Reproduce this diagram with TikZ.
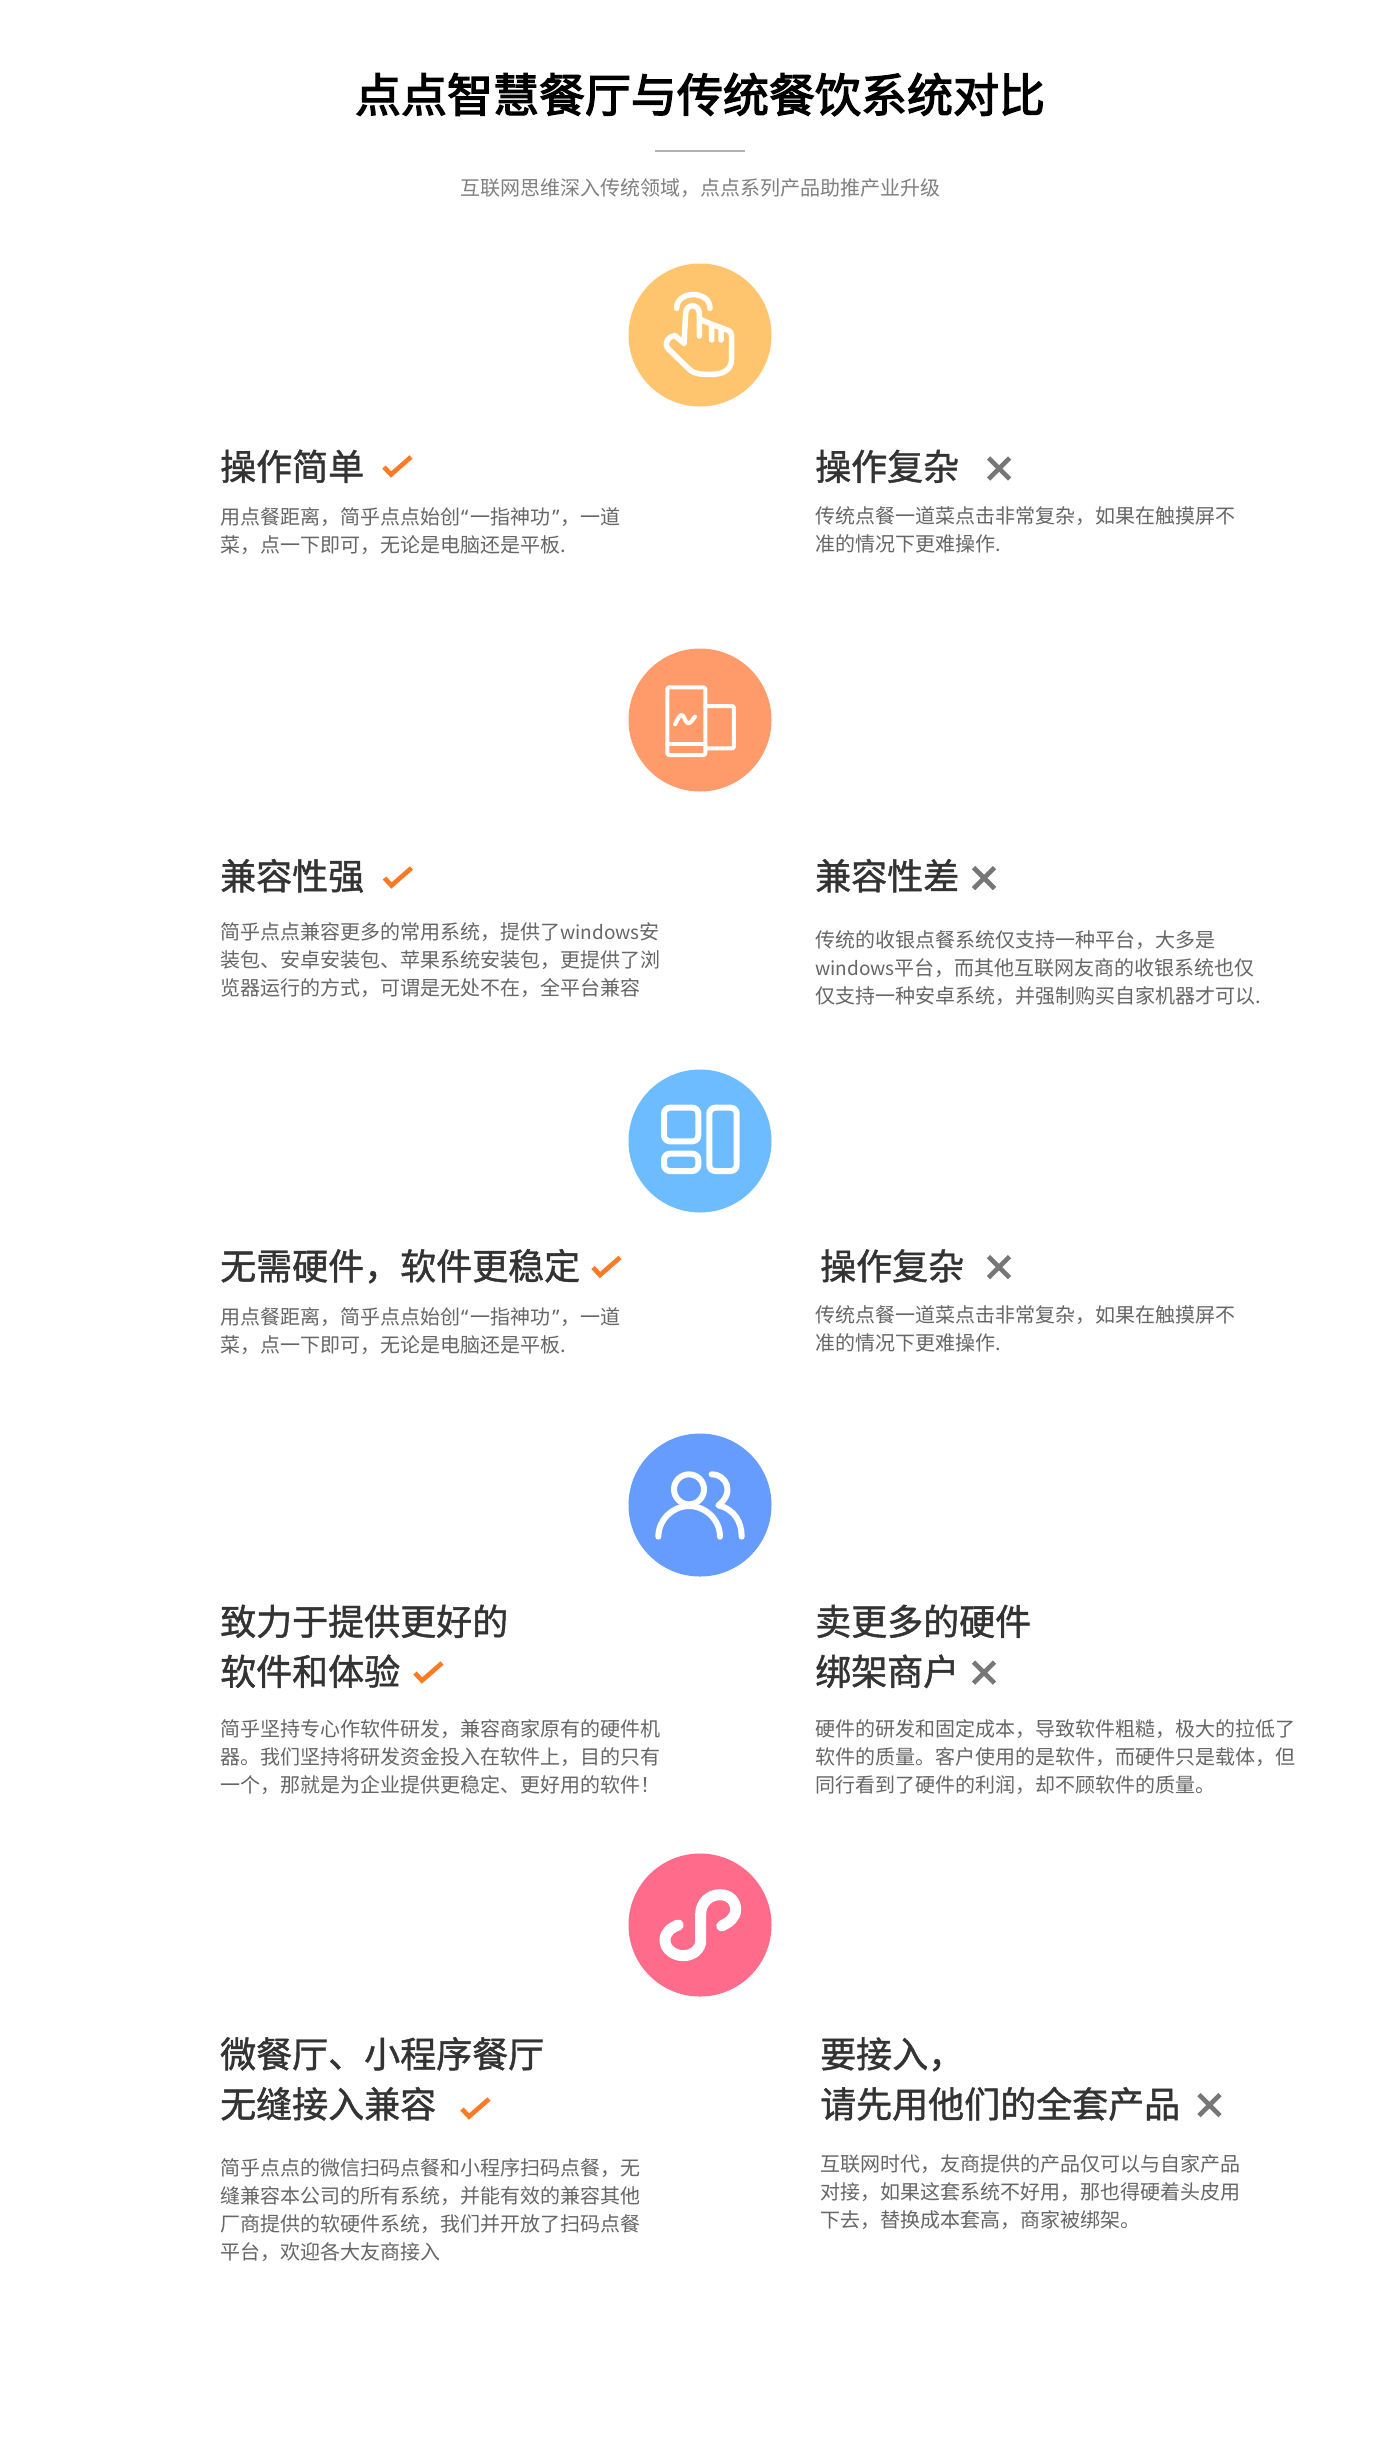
\documentclass[tikz,border=0pt]{standalone}
\usepackage{fontspec}
\usepackage{tikz}
\setmainfont{Noto Sans CJK SC}
\newfontfamily\headfont[FakeBold=1.2]{Noto Sans CJK SC}
\newfontfamily\titlefont[FakeBold=2.8]{Noto Sans CJK SC}
\newfontfamily\quotefont{Noto Sans}
\newcommand{\openq}{\kern1pt{\quotefont “}\kern2pt}
\newcommand{\closeq}{\kern2pt{\quotefont ”}\kern1pt}
\newcommand{\winname}{{\fontsize{19}{28}\selectfont windows}}
\definecolor{yellowbg}{HTML}{FFC56E}
\definecolor{orangebg}{HTML}{FF9B6B}
\definecolor{skybg}{HTML}{6CBCFF}
\definecolor{bluebg}{HTML}{679CFF}
\definecolor{pinkbg}{HTML}{FF6B8B}
\definecolor{okcolor}{HTML}{F97B26}
\definecolor{nocolor}{HTML}{777777}
\tikzset{
    %Define style for the texts
    title/.style={
           anchor=base, inner sep=0pt, font=\fontsize{46}{50}\selectfont\titlefont, text=black},
    subtitle/.style={
           anchor=base, inner sep=0pt, font=\fontsize{20}{28}\selectfont, text=black!50},
    headtext/.style={
           anchor=base west, inner sep=0pt, text width=620pt, align=left,
           font=\fontsize{36}{50}\selectfont\headfont, text=black!80},
    bodytext/.style={
           anchor=base west, inner sep=0pt, text width=540pt, align=left,
           font=\fontsize{20}{28}\selectfont, text=black!60},
    % Define icon styles
    badge/.style={
           circle, minimum size=143pt, inner sep=0pt},
    ico/.style={
           draw=white, line cap=round, line join=round},
    % Define the two marks
    okmark/.pic={
           \draw[okcolor, line width=4.6pt] (-13,1) -- (-6,8.5) -- (14,-9);},
    nomark/.pic={
           \draw[nocolor, line width=4.6pt] (-10.5,-10.5) -- (10.5,10.5) (-10.5,10.5) -- (10.5,-10.5);}
}
\begin{document}
\begin{tikzpicture}[x=1pt,y=-1pt]
	\path[fill=white, use as bounding box] (0,0) rectangle (1400,2447);

	% Header
	\node[title](main) at (700,112) {点点智慧餐厅与传统餐饮系统对比};
	\coordinate (rule-l) at (655,151);
	\coordinate (rule-r) at (745,151);
	\draw[black!30, line width=1.5pt] (rule-l) -- (rule-r);
	\node[subtitle](sub) at (700,195.5) {互联网思维深入传统领域，点点系列产品助推产业升级};

	% Row 1
	\node[badge, fill=yellowbg](touch) at (700,335) {};
	\begin{scope}[shift={(640,275)}, x=0.3333pt, y=-0.3333pt]
		\draw[ico, line width=5.5pt] (110,100) .. controls (110,45) and (210,45) .. (210,100);
		\draw[ico, line width=5.5pt] (132,205) -- (137,115) .. controls (137,85) and (178,85) .. (178,115) -- (178,183)
			(178,132) -- (215,148) -- (215,195)
			(215,148) -- (243,158) -- (243,195)
			(243,158) -- (262,165) .. controls (270,168) and (275,172) .. (275,182) -- (275,250)
			.. controls (275,285) and (250,298) .. (215,298) .. controls (185,298) and (165,298) .. (150,285)
			-- (85,222) .. controls (70,205) and (85,182) .. (105,182) -- (132,205);
	\end{scope}
	\node[headtext](l1-head) at (220,480) {操作简单};
	\pic at (397,466) {okmark};
	\node[bodytext](l1-body) at (220,524.5) {用点餐距离，简乎点点始创\openq 一指神功\closeq ，一道\\菜，点一下即可，无论是电脑还是平板.};
	\node[headtext](r1-head) at (815,480) {操作复杂};
	\pic at (999,468.5) {nomark};
	\node[bodytext](r1-body) at (815,523.5) {传统点餐一道菜点击非常复杂，如果在触摸屏不\\准的情况下更难操作.};

	% Row 2
	\node[badge, fill=orangebg](device) at (700,720) {};
	\begin{scope}[shift={(650,670)}, x=0.3333pt, y=-0.3333pt]
		\draw[ico, line width=4pt, rounded corners=2pt] (52,52) rectangle (166,255);
		\draw[ico, line width=4pt] (52,222) -- (166,222);
		\draw[ico, line width=4pt, rounded corners=2pt] (166,108) -- (252,108) -- (252,235) -- (166,235);
		\draw[ico, line width=4pt] (75,163) .. controls (82,150) and (88,135) .. (95,135) .. controls (104,135) and (105,160) .. (115,160) .. controls (122,160) and (128,148) .. (135,140);
	\end{scope}
	\node[headtext](l2-head) at (220,889.5) {兼容性强};
	\pic at (397.5,877) {okmark};
	\node[bodytext](l2-body) at (220,939.5) {简乎点点兼容更多的常用系统，提供了\winname 安\\装包、安卓安装包、苹果系统安装包，更提供了浏\\览器运行的方式，可谓是无处不在，全平台兼容};
	\node[headtext](r2-head) at (815,889.5) {兼容性差};
	\pic at (984,878) {nomark};
	\node[bodytext](r2-body) at (815,947) {传统的收银点餐系统仅支持一种平台，大多是\\\winname 平台，而其他互联网友商的收银系统也仅\\仅支持一种安卓系统，并强制购买自家机器才可以.};

	% Row 3
	\node[badge, fill=skybg](panel) at (700,1141) {};
	\begin{scope}[shift={(650,1097)}, x=0.3333pt, y=-0.3333pt]
		\draw[ico, line width=6pt, rounded corners=6pt] (42,32) rectangle (145,133);
		\draw[ico, line width=6pt, rounded corners=6pt] (42,170) rectangle (145,222);
		\draw[ico, line width=6pt, rounded corners=6pt] (178,32) rectangle (260,222);
	\end{scope}
	\node[headtext](l3-head) at (220,1279.5) {无需硬件，软件更稳定};
	\pic at (606,1266.5) {okmark};
	\node[bodytext](l3-body) at (220,1324.5) {用点餐距离，简乎点点始创\openq 一指神功\closeq ，一道\\菜，点一下即可，无论是电脑还是平板.};
	\node[headtext](r3-head) at (820,1279.5) {操作复杂};
	\pic at (999,1267) {nomark};
	\node[bodytext](r3-body) at (815,1322.5) {传统点餐一道菜点击非常复杂，如果在触摸屏不\\准的情况下更难操作.};

	% Row 4
	\node[badge, fill=bluebg](users) at (700,1505) {};
	\begin{scope}[shift={(650,1456)}, x=0.3333pt, y=-0.3333pt]
		\draw[ico, line width=6pt] (117,100) circle [radius=15pt];
		\draw[ico, line width=6pt] (25,242) .. controls (25,190) and (70,150) .. (117,150) .. controls (165,150) and (210,190) .. (210,242);
		\draw[ico, line width=6pt] (185,55) .. controls (230,55) and (255,110) .. (205,148) .. controls (255,160) and (275,200) .. (275,242);
	\end{scope}
	\node[headtext](l4-head) at (220,1635) {致力于提供更好的\\软件和体验};
	\pic at (428,1672) {okmark};
	\node[bodytext](l4-body) at (220,1736) {简乎坚持专心作软件研发，兼容商家原有的硬件机\\器。我们坚持将研发资金投入在软件上，目的只有\\一个，那就是为企业提供更稳定、更好用的软件！};
	\node[headtext](r4-head) at (815,1635) {卖更多的硬件\\绑架商户};
	\pic at (984,1672.5) {nomark};
	\node[bodytext](r4-body) at (815,1736) {硬件的研发和固定成本，导致软件粗糙，极大的拉低了\\软件的质量。客户使用的是软件，而硬件只是载体，但\\同行看到了硬件的利润，却不顾软件的质量。};

	% Row 5
	\node[badge, fill=pinkbg](mini) at (700,1925) {};
	\begin{scope}[shift={(650,1881)}, x=0.3333pt, y=-0.3333pt]
		\draw[ico, line width=11pt] (85,132) .. controls (62,140) and (45,155) .. (45,177) .. controls (45,205) and (72,224) .. (100,224) .. controls (130,224) and (152,203) .. (152,180) -- (152,100) .. controls (152,65) and (178,41) .. (210,41) .. controls (240,41) and (257,62) .. (257,85) .. controls (257,112) and (235,125) .. (215,135);
	\end{scope}
	\node[headtext](l5-head) at (220,2067.5) {微餐厅、小程序餐厅\\无缝接入兼容};
	\pic at (475,2108) {okmark};
	\node[bodytext](l5-body) at (220,2175.5) {简乎点点的微信扫码点餐和小程序扫码点餐，无\\缝兼容本公司的所有系统，并能有效的兼容其他\\厂商提供的软硬件系统，我们并开放了扫码点餐\\平台，欢迎各大友商接入};
	\node[headtext](r5-head) at (820,2067.5) {要接入，\\请先用他们的全套产品};
	\pic at (1209.5,2105) {nomark};
	\node[bodytext](r5-body) at (820,2171.5) {互联网时代，友商提供的产品仅可以与自家产品\\对接，如果这套系统不好用，那也得硬着头皮用\\下去，替换成本套高，商家被绑架。};
\end{tikzpicture}
\end{document}
